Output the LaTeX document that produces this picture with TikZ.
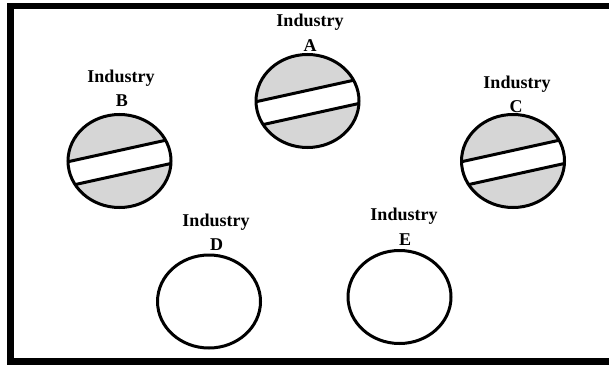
\documentclass[tikz,border=0pt]{standalone}
\usepackage{fontspec}
\setmainfont{Liberation Serif}
\usetikzlibrary{shapes.geometric}
\definecolor{shadegray}{RGB}{214,214,214}
\tikzset{
  ring/.style={ellipse, draw=black, line width=3pt, minimum width=103pt, minimum height=93pt, inner sep=0pt},
  lbl/.style={anchor=base, inner sep=0pt, font=\bfseries\fontsize{18}{20}\selectfont},
  frameline/.style={draw=black, line width=6.5pt},
  bandline/.style={draw=black, line width=3pt}
}
\newcommand{\bandedfill}[2]{%
  \begin{scope}[shift={(#1,#2)}]
    \fill[shadegray] (0,0) ellipse [x radius=51.5pt, y radius=46.5pt];
    \begin{scope}
      \clip (0,0) ellipse [x radius=51.5pt, y radius=46.5pt];
      \fill[white] (-60,2.6) -- (60,-23.8) -- (60,0.6) -- (-60,27) -- cycle;
      \draw[bandline] (-60,2.6) -- (60,-23.8);
      \draw[bandline] (-60,27) -- (60,0.6);
    \end{scope}
  \end{scope}}
\begin{document}
\begin{tikzpicture}[x=1pt,y=-1pt]
\useasboundingbox (0,0) rectangle (609,366);
\clip (0,0) rectangle (609,366);
\fill[white] (0,0) rectangle (609,366);
\draw[frameline] (10.5,5.8) rectangle (640,361.7);

% shaded banded circles
\bandedfill{307.5}{101}
\bandedfill{119.5}{161}
\bandedfill{513}{161}
\node[ring] (A) at (307.5,101) {};
\node[ring] (B) at (119.5,161) {};
\node[ring] (C) at (513,161) {};
\node[ring] (D) at (209,301.5) {};
\node[ring] (E) at (399.5,297) {};

% labels
\node[lbl] (lA1) at (310,26.6) {Industry};
\node[lbl] (lA2) at (310,51.5) {A};
\node[lbl] (lB1) at (121,82.3) {Industry};
\node[lbl] (lB2) at (122,106.5) {B};
\node[lbl] (lC1) at (517,89) {Industry};
\node[lbl] (lC2) at (516,112.5) {C};
\node[lbl] (lD1) at (216,226.6) {Industry};
\node[lbl] (lD2) at (216.5,250.5) {D};
\node[lbl] (lE1) at (404,220) {Industry};
\node[lbl] (lE2) at (405,245) {E};
\end{tikzpicture}
\end{document}
